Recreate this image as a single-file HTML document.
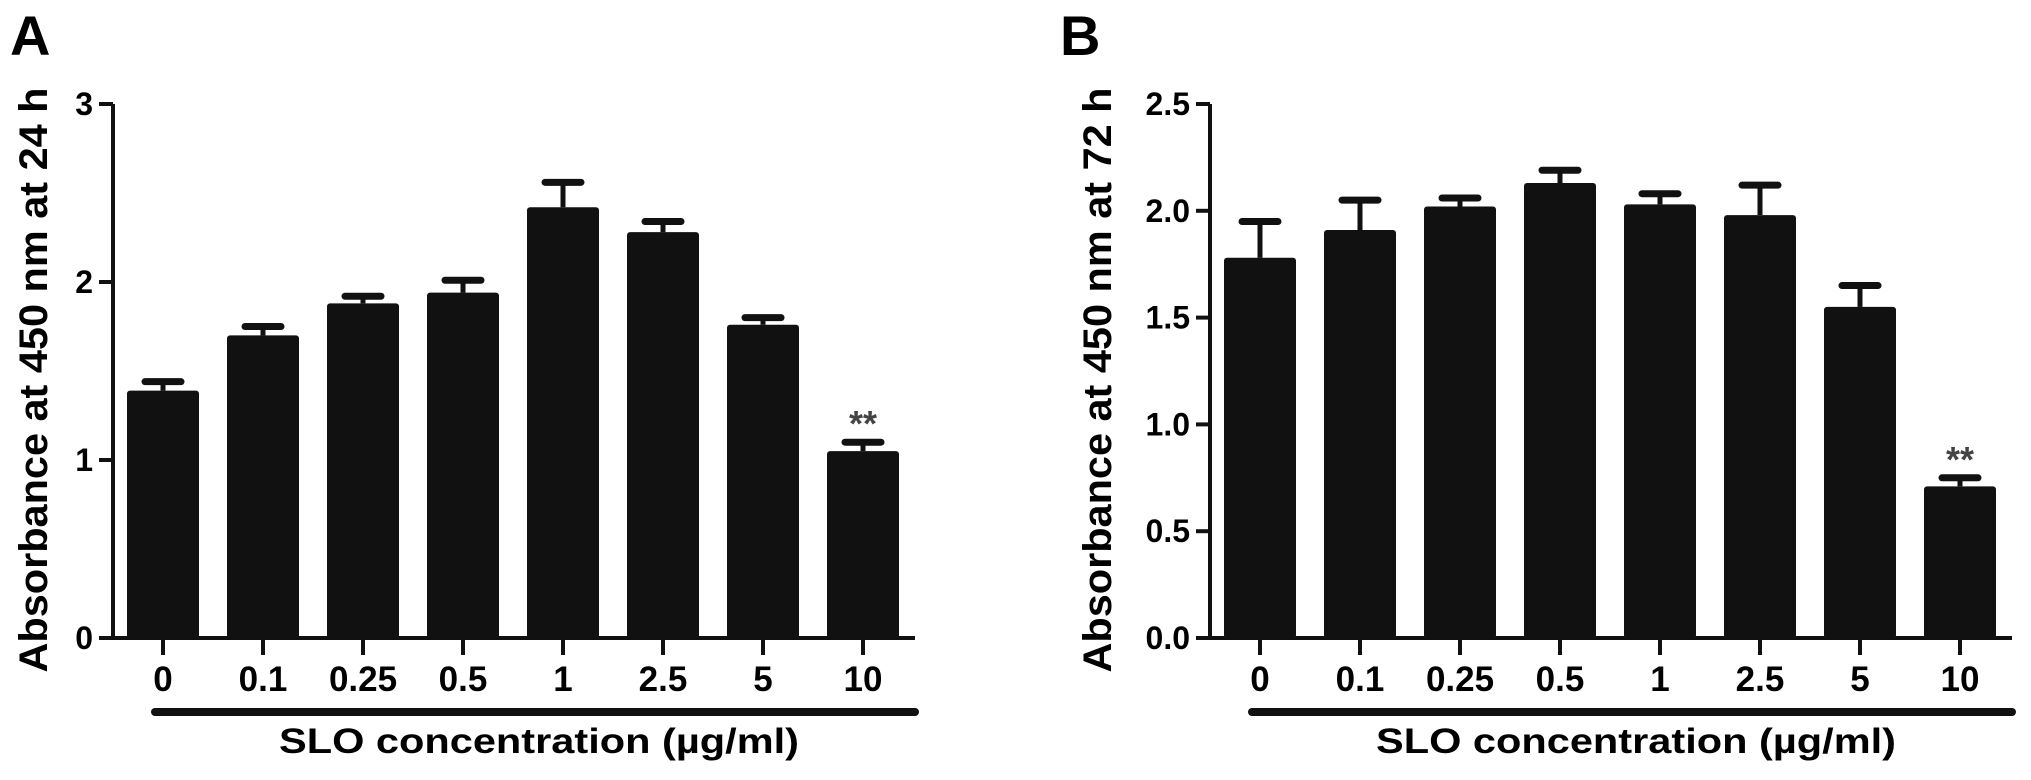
<!DOCTYPE html>
<html><head><meta charset="utf-8"><style>
html,body{margin:0;padding:0;background:#fff;}
svg{display:block;font-family:"Liberation Sans",Arial,sans-serif;font-weight:bold;}
</style></head><body>
<svg id="fig" width="2031" height="780" viewBox="0 0 2031 780" xmlns="http://www.w3.org/2000/svg"></svg>
<script>
const categories = ["0","0.1","0.25","0.5","1","2.5","5","10"];
const valuesA = [1.39,1.70,1.88,1.94,2.42,2.28,1.76,1.05];
const errorsA = [0.05,0.05,0.04,0.07,0.14,0.06,0.04,0.05];
const valuesB = [1.78,1.91,2.02,2.13,2.03,1.98,1.55,0.71];
const errorsB = [0.17,0.14,0.04,0.06,0.05,0.14,0.10,0.04];
const ticksA = ["0","1","2","3"];
const tickValsA = [0,1,2,3];
const ticksB = ["0.0","0.5","1.0","1.5","2.0","2.5"];
const tickValsB = [0,0.5,1,1.5,2,2.5];
const sigIndex = 7;

const NS = "http://www.w3.org/2000/svg";
const svg = document.getElementById('fig');
function mk(tag, attrs, parent, text){
  const e = document.createElementNS(NS, tag);
  for (const k in attrs) e.setAttribute(k, attrs[k]);
  if (text !== undefined) e.textContent = text;
  (parent||svg).appendChild(e);
  return e;
}
function panel(cfg){
  const g = mk('g', {});
  
  
  const y0 = 638, ax = cfg.axisX;
  const y = v => y0 - v / cfg.max * (y0 - 104);
  const x = i => ax + 50 + i * 100;
  const xEnd = ax + 50 + (categories.length - 1) * 100 + 52;
  const lbl = mk('text', {x: cfg.labelX, y: 55, 'font-size': 56}, g, cfg.letter);
  
  
  cfg.values.forEach((v, i) => {
    const top = y(v), et = y(v + cfg.errors[i]);
    const ln = mk('line', {x1: x(i), x2: x(i), y1: top, y2: et, stroke: '#111', 'stroke-width': 5}, g);
    
    
    const cap = mk('line', {x1: x(i) - 18, x2: x(i) + 18, y1: et, y2: et, stroke: '#111', 'stroke-width': 7, 'stroke-linecap': 'round'}, g);
    
    
    const r = mk('rect', {x: x(i) - 36, y: top, width: 72, height: y0 - top, fill: '#111', rx: 3}, g);
    
    
    const t = mk('line', {x1: x(i), x2: x(i), y1: y0, y2: 655, stroke: '#111', 'stroke-width': 4}, g);
    
    
    const tl = mk('text', {x: x(i), y: 691, 'font-size': 35, 'text-anchor': 'middle'}, g, categories[i]);
    
    
  });
  const sv = cfg.values[sigIndex] + cfg.errors[sigIndex];
  const st = mk('text', {x: x(sigIndex), y: y(sv) - 6, 'font-size': 36, 'text-anchor': 'middle', fill: '#444'}, g, '**');
  
  
  const ya = mk('line', {x1: ax, x2: ax, y1: 104, y2: y0 + 2, stroke: '#111', 'stroke-width': 4}, g);
  
  
  const xa = mk('line', {x1: ax - 14, x2: xEnd, y1: y0, y2: y0, stroke: '#111', 'stroke-width': 4}, g);
  
  
  cfg.tickVals.forEach((v, i) => {
    const t = mk('line', {x1: ax - 14, x2: ax, y1: y(v), y2: y(v), stroke: '#111', 'stroke-width': 4}, g);
    
    
    const tl = mk('text', {x: ax - 20, y: y(v) + 11, 'font-size': 32, 'text-anchor': 'end'}, g, cfg.ticks[i]);
    
    
  });
  const ul = mk('line', {x1: x(0) - 8, x2: xEnd, y1: 712, y2: 712, stroke: '#111', 'stroke-width': 8, 'stroke-linecap': 'round'}, g);
  
  
  const xt = mk('text', {x: (x(0) + xEnd) / 2, y: 753, 'font-size': 35, 'text-anchor': 'middle', textLength: 520, lengthAdjust: 'spacingAndGlyphs'}, g, 'SLO concentration (µg/ml)');
  
  
  const yt = mk('text', {x: 0, y: 0, 'font-size': 40, 'text-anchor': 'middle', textLength: 585, lengthAdjust: 'spacingAndGlyphs', transform: 'translate(' + cfg.titleX + ',380) rotate(-90)'}, g, cfg.yTitle);
  
  
}
panel({name: 'panel-a', letter: 'A', labelX: 10, axisX: 113, max: 3, values: valuesA, errors: errorsA, ticks: ticksA, tickVals: tickValsA, titleX: 47, yTitle: 'Absorbance at 450 nm at 24 h'});
panel({name: 'panel-b', letter: 'B', labelX: 1060, axisX: 1210, max: 2.5, values: valuesB, errors: errorsB, ticks: ticksB, tickVals: tickValsB, titleX: 1111, yTitle: 'Absorbance at 450 nm at 72 h'});
</script>
</body></html>
